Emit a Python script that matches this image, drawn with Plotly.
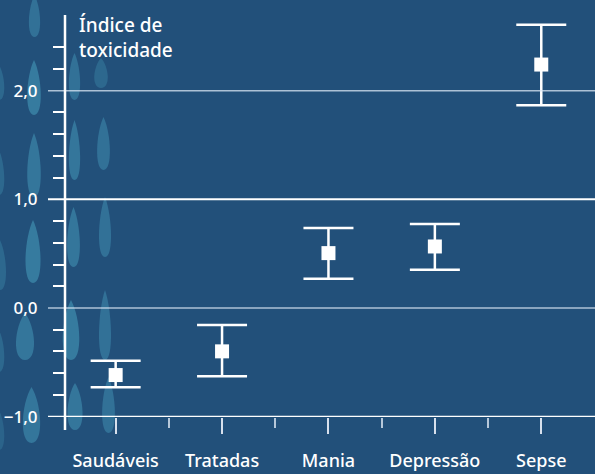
import plotly.graph_objects as go

# ---- data ----
categories = ["Saudáveis", "Tratadas", "Mania", "Depressão", "Sepse"]
mean_vals = [-0.617, -0.399, 0.505, 0.566, 2.240]
upper_vals = [-0.485, -0.157, 0.737, 0.774, 2.607]
lower_vals = [-0.730, -0.629, 0.268, 0.351, 1.865]

y_major = [-1.0, 0.0, 1.0, 2.0]
y_minor = [-0.8, -0.6, -0.4, -0.2, 0.2, 0.4, 0.6, 0.8, 1.2, 1.4, 1.6, 1.8, 2.2, 2.4]
x_minor = [0.5, 1.5, 2.5, 3.5]
axis_title = "Índice de<br>toxicidade"

W, H = 595, 474
ML, MR, MT, MB = 65, 0, 15, 57
PW = W - ML - MR
PH = H - MT - MB

BG = "#22507a"
FONT = "Noto Sans"
WEIGHT = 500

x_pos = list(range(len(categories)))
err_plus = [u - m for u, m in zip(upper_vals, mean_vals)]
err_minus = [m - l for m, l in zip(mean_vals, lower_vals)]

fig = go.Figure()
fig.add_trace(go.Scatter(
    x=x_pos, y=mean_vals, mode="markers",
    marker=dict(symbol="square", size=14, color="white", line=dict(width=0)),
    error_y=dict(type="data", symmetric=False, array=err_plus, arrayminus=err_minus,
                 color="white", thickness=2.5, width=25),
    hoverinfo="skip", showlegend=False,
))

def px2paper(px, py):
    return (px - ML) / PW, (H - MB - py) / PH

def teardrop(x0, x1, y0, y1):
    cx = (x0 + x1) / 2
    w = x1 - x0
    h = y1 - y0
    pts = [
        ("M", [(cx, y0)]),
        ("C", [(cx + 0.45 * w, y0 + 0.3 * h), (cx + 0.55 * w, y1), (cx, y1)]),
        ("C", [(cx - 0.55 * w, y1), (cx - 0.45 * w, y0 + 0.3 * h), (cx, y0)]),
    ]
    s = ""
    for cmd, plist in pts:
        s += cmd + " " + " ".join("%.5f,%.5f" % px2paper(px, py) for px, py in plist) + " "
    return s + "Z"

shapes = []
# decorative grains on the left strip (background texture)
grains = [
    (27, 42, -5, 37, 0.35), (25, 43, 60, 115, 0.45), (25, 43, 133, 197, 0.4),
    (23, 43, 220, 283, 0.45), (13, 37, 313, 360, 0.4), (20, 43, 387, 443, 0.4),
    (67, 82, 53, 100, 0.35), (67, 82, 120, 180, 0.4), (65, 82, 207, 267, 0.4),
    (60, 82, 300, 360, 0.45), (65, 85, 383, 430, 0.4),
    (92, 110, 58, 88, 0.25), (95, 112, 117, 170, 0.35), (97, 113, 197, 257, 0.35),
    (97, 113, 290, 360, 0.35), (100, 117, 377, 433, 0.35),
    (-8, 6, 65, 100, 0.25), (-8, 6, 150, 195, 0.25), (-8, 8, 240, 290, 0.25),
    (-8, 6, 330, 372, 0.25), (-8, 6, 410, 450, 0.2),
]
for x0, x1, y0, y1, op in grains:
    shapes.append(dict(type="path", xref="paper", yref="paper",
                       path=teardrop(x0, x1, y0, y1), layer="below",
                       fillcolor=f"rgba(80,175,205,{op})", line=dict(width=0)))

# gridlines (extend left of the y axis like long major ticks)
grid_colors = {-1.0: "white", 0.0: "rgba(220,232,245,0.75)",
               1.0: "white", 2.0: "rgba(220,232,245,0.75)"}
for v in y_major:
    shapes.append(dict(type="line", xref="paper", yref="y",
                       x0=-17 / PW, x1=1, y0=v, y1=v, layer="above",
                       line=dict(color=grid_colors[v], width=2 if v in (-1.0, 1.0) else 1.5)))
# y axis line, extending above and below the plot
shapes.append(dict(type="line", xref="paper", yref="paper",
                   x0=0, x1=0, y0=-13 / PH, y1=1, layer="above",
                   line=dict(color="white", width=2.5)))
fig.update_layout(shapes=shapes)

fig.update_layout(
    width=W, height=H,
    margin=dict(l=ML, r=MR, t=MT, b=MB, pad=0, autoexpand=False),
    paper_bgcolor=BG, plot_bgcolor="rgba(0,0,0,0)",
    separators=",.",
    font=dict(family=FONT, color="white"),
    xaxis=dict(range=[-0.476, 4.505], tickvals=x_pos, ticktext=categories,
               automargin=False,
               showgrid=False, zeroline=False, showline=False,
               ticks="outside", ticklen=16, tickwidth=1.5,
               tickcolor="rgba(235,240,248,0.9)",
               tickfont=dict(size=18, color="white", family=FONT, weight=WEIGHT),
               ticklabelstandoff=11,
               minor=dict(tickvals=x_minor, ticks="outside", ticklen=10,
                          tickwidth=1.5, tickcolor="rgba(220,230,242,0.8)"),
               fixedrange=True),
    yaxis=dict(range=[-1.003, 2.696], tickvals=y_major, tickformat=".1f",
               automargin=False,
               showgrid=False, zeroline=False, showline=False,
               ticks="outside", ticklen=17, tickcolor="rgba(0,0,0,0)",
               tickfont=dict(size=17, color="white", family=FONT, weight=WEIGHT),
               ticklabelstandoff=6,
               minor=dict(tickvals=y_minor, ticks="outside", ticklen=11,
                          tickwidth=1.5, tickcolor="white"),
               fixedrange=True),
    annotations=[dict(text=axis_title, xref="paper", yref="paper",
                      x=(77 - ML) / PW, y=1.012, xanchor="left", yanchor="top",
                      align="left", showarrow=False,
                      font=dict(size=19, color="white", family=FONT, weight=WEIGHT))],
)

fig.write_html("out.html", config={"displayModeBar": False})
